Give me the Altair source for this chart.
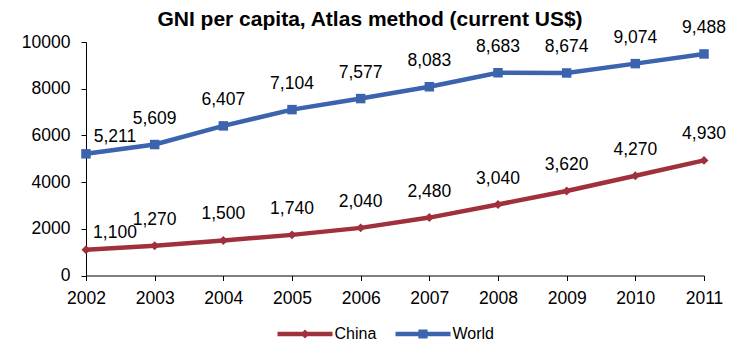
import altair as alt
import pandas as pd

# GNI per capita, Atlas method (current US$)
years = [2002, 2003, 2004, 2005, 2006, 2007, 2008, 2009, 2010, 2011]
china = [1100, 1270, 1500, 1740, 2040, 2480, 3040, 3620, 4270, 4930]
world = [5211, 5609, 6407, 7104, 7577, 8083, 8683, 8674, 9074, 9488]
series_names = ["China", "World"]
series_colors = ["#A0303C", "#3C64AE"]
series_markers = ["diamond", "square"]
marker_sizes = [80, 90]
y_ticks = [0, 2000, 4000, 6000, 8000, 10000]

rows = []
for name, values in zip(series_names, [china, world]):
    for yr, v in zip(years, values):
        rows.append({"year": yr, "value": v, "series": name})
df = pd.DataFrame(rows)

FONT = "Liberation Sans"

# legend glyphs (unit = half the symbol size): a 55px line with the series marker in the middle
china_glyph = "M-2.75,-0.22H2.75V0.22H-2.75Z M0,-0.45L0.45,0L0,0.45L-0.45,0Z"
world_glyph = "M-2.75,-0.22H2.75V0.22H-2.75Z M-0.46,-0.46H0.46V0.46H-0.46Z"

x_enc = alt.X(
    "year:Q",
    scale=alt.Scale(domain=[years[0], years[-1]], nice=False, zero=False),
    axis=alt.Axis(
        values=years, format="d", title=None, grid=False,
        labelFlush=False, labelOverlap=False,
        tickSize=5, labelPadding=9,
        domainColor="#000000", tickColor="#000000",
        labelColor="#000000", labelFont=FONT, labelFontSize=17.5,
    ),
)
y_enc = alt.Y(
    "value:Q",
    scale=alt.Scale(domain=[0, 10000], nice=False),
    axis=alt.Axis(
        values=y_ticks, format="d", title=None, grid=False,
        labelFlush=False, labelOverlap=False,
        tickSize=5, labelPadding=11,
        domainColor="#000000", tickColor="#000000",
        labelColor="#000000", labelFont=FONT, labelFontSize=17.5,
    ),
)

base = alt.Chart(df).encode(x=x_enc, y=y_enc)

layers = []
# one line + marker layer per series
for name, col, shp, sz in zip(series_names, series_colors, series_markers, marker_sizes):
    s = base.transform_filter(alt.datum.series == name)
    layers.append(s.mark_line(strokeWidth=4.5, color=col))
    layers.append(s.mark_point(shape=shp, filled=True, size=sz, opacity=1, color=col))

legend_props = dict(
    orient="none", legendX=209, legendY=282, direction="horizontal",
    title=None, symbolSize=400, symbolStrokeWidth=0, symbolOpacity=1,
    labelFont=FONT, labelFontSize=16, labelColor="#000000",
    labelOffset=19.5, columnPadding=18, padding=0,
)
# invisible points that carry the legend
legend_layer = base.mark_point(filled=True, opacity=0).encode(
    color=alt.Color(
        "series:N",
        scale=alt.Scale(domain=series_names, range=series_colors),
        legend=alt.Legend(**legend_props),
    ),
    shape=alt.Shape(
        "series:N",
        scale=alt.Scale(domain=series_names, range=[china_glyph, world_glyph]),
        legend=alt.Legend(**legend_props),
    ),
)
layers.append(legend_layer)

labels = base.transform_filter(alt.datum.year != years[0]).mark_text(
    font=FONT, fontSize=17.5, color="#000000", baseline="middle", align="center", dy=-26
).encode(text=alt.Text("value:Q", format=","))

first_labels = base.transform_filter(alt.datum.year == years[0]).mark_text(
    font=FONT, fontSize=17.5, color="#000000", baseline="middle", align="center", dx=29, dy=-17
).encode(text=alt.Text("value:Q", format=","))
layers += [labels, first_labels]

chart = (
    alt.layer(*layers)
    .properties(
        width=618,
        height=233.5,
        background="#FFFFFF",
        title=alt.TitleParams(
            "GNI per capita, Atlas method (current US$)",
            font=FONT, fontSize=21, fontWeight="bold", color="#000000",
            anchor="middle", frame="group", dx=-25, dy=15, offset=4,
        ),
        autosize=alt.AutoSizeParams(type="none"),
        padding={"left": 86, "top": 42, "right": 36, "bottom": 65.5},
    )
    .configure_view(strokeWidth=0, stroke="transparent")
)

chart.save("out.html", embed_options={"renderer": "svg", "actions": False})
